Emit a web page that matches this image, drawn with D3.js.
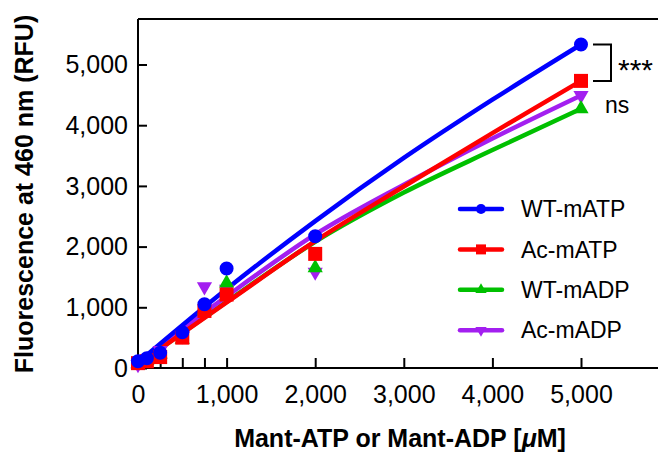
<!DOCTYPE html>
<html>
<head>
<meta charset="utf-8">
<script src="https://cdn.jsdelivr.net/npm/d3@7"></script>
<style>
  body { margin: 0; background: #fff; }
  svg { display: block; font-family: "Liberation Sans", Arial, Helvetica, sans-serif; }
</style>
</head>
<body>
<div id="chart"></div>
<script>
// Data
const concentrations = [0, 100, 250, 500, 750, 1000, 2000, 5000];
const wtATP = [110, 160, 250, 590, 1050, 1640, 2170, 5330];
const acATP = [80, 110, 180, 500, 940, 1210, 1880, 4730];
const wtADP = [70, 120, 230, 470, 950, 1400, 1650, 4270];
const acADP = [60, 150, 290, 530, 1340, 1300, 1580, 4490];

// Fitted curves
const fitX = [0, 1000, 2000, 3000, 4000, 5000];
const fitWtATP = [90, 1300, 2420, 3460, 4420, 5330];
const fitAcATP = [60, 1080, 2090, 2990, 3870, 4730];
const fitWtADP = [60, 1090, 2080, 2890, 3590, 4270];
const fitAcADP = [80, 1180, 2200, 3020, 3780, 4490];

const seriesNames = ["WT-mATP", "Ac-mATP", "WT-mADP", "Ac-mADP"];
const xTicks = [0, 250, 500, 750, 1000, 2000, 3000, 4000, 5000];
const xTickLabels = [0, 1000, 2000, 3000, 4000, 5000];
const yTicks = [0, 1000, 2000, 3000, 4000, 5000];

// Styles
const width = 658;
const height = 454;
const colors = ["#0000ff", "#ff0000", "#00c000", "#a31ff0"];
const shapes = ["circle", "square", "triangle", "down"];

const series = [
    {name: seriesNames[0], pts: wtATP, fit: fitWtATP},
    {name: seriesNames[1], pts: acATP, fit: fitAcATP},
    {name: seriesNames[2], pts: wtADP, fit: fitWtADP},
    {name: seriesNames[3], pts: acADP, fit: fitAcADP},
].map((s, i) => ({...s, color: colors[i], shape: shapes[i]}));

const svg = d3.select("#chart").append("svg")
    .attr("width", width)
    .attr("height", height);

const xScale = d3.scaleLinear().domain([0, 5900]).range([138, 138 + 5900 * 0.0886]);
const yScale = d3.scaleLinear().domain([0, 5750]).range([368, 368 - 5750 * 0.0607]);

const symbolPath = function(shape, big) {
    let type = d3.symbolCircle, size = big ? 154 : 80;
    if (shape === "square") { type = d3.symbolSquare; size = big ? 196 : 100; }
    if (shape === "triangle" || shape === "down") { type = d3.symbolTriangle; size = big ? 100 : 55; }
    return d3.symbol().type(type).size(size)();
}
const symbolTransform = function(shape, x, y) {
    return `translate(${x},${y})` + (shape === "down" ? " rotate(180)" : "");
}

// axes
const xAxis = svg.append("g")
    .attr("transform", `translate(0,${yScale(0)})`)
    .call(d3.axisBottom(xScale).tickValues(xTicks).tickSize(-10).tickPadding(0)
        .tickFormat(d => xTickLabels.includes(d) ? d3.format(",")(d) : ""));
xAxis.select(".domain").attr("stroke-width", 2).attr("d", `M${xScale(0)},0H${width + 5}`);
xAxis.selectAll(".tick line").attr("stroke-width", 2);
xAxis.selectAll(".tick text")
    .attr("y", 17)
    .attr("font-size", 25)
    .attr("fill", "#000")
    .attr("font-family", "Liberation Sans, Arial, sans-serif");

const yAxis = svg.append("g")
    .attr("transform", `translate(${xScale(0)},0)`)
    .call(d3.axisLeft(yScale).tickValues(yTicks).tickSize(-9).tickPadding(0)
        .tickFormat(d3.format(",")));
yAxis.select(".domain").attr("stroke-width", 2).attr("d", `M0,${yScale(0)}V${yScale.range()[1]}`);
yAxis.selectAll(".tick line").attr("stroke-width", 2);
yAxis.selectAll(".tick text")
    .attr("x", -10)
    .attr("dy", "0.33em")
    .attr("font-size", 25)
    .attr("fill", "#000")
    .attr("font-family", "Liberation Sans, Arial, sans-serif");

// top frame line
svg.append("line")
    .attr("x1", xScale(0)).attr("x2", width + 5)
    .attr("y1", yScale.range()[1]).attr("y2", yScale.range()[1])
    .attr("stroke", "#000").attr("stroke-width", 2);

// axis titles
svg.append("text")
    .attr("x", 400).attr("y", 447)
    .attr("text-anchor", "middle")
    .attr("font-size", 25).attr("font-weight", "bold")
    .html('Mant-ATP or Mant-ADP [<tspan font-style="italic">μ</tspan>M]');
svg.append("text")
    .attr("transform", "translate(33,194) rotate(-90)")
    .attr("text-anchor", "middle")
    .attr("font-size", 25).attr("font-weight", "bold")
    .text("Fluorescence at 460 nm (RFU)");

// fitted curves
const line = d3.line()
    .x((d, i) => xScale(fitX[i]))
    .y(d => yScale(d))
    .curve(d3.curveMonotoneX);
const drawOrder = [2, 3, 1, 0];
for (const i of drawOrder) {
    svg.append("path")
        .datum(series[i].fit)
        .attr("fill", "none")
        .attr("stroke", series[i].color)
        .attr("stroke-width", 4.5)
        .attr("stroke-linecap", "round")
        .attr("d", line);
}

// data points
for (const i of [3, 2, 1, 0]) {
    const s = series[i];
    svg.append("g").selectAll("path")
        .data(s.pts)
        .join("path")
        .attr("d", symbolPath(s.shape, true))
        .attr("transform", (d, j) => symbolTransform(s.shape, xScale(concentrations[j]), yScale(d)))
        .attr("fill", s.color);
}

// significance bracket
const yTop = yScale(wtATP[wtATP.length - 1]);
const yBot = yScale(acATP[acATP.length - 1]);
svg.append("path")
    .attr("d", `M593,${yTop}H611V${yBot}H593`)
    .attr("fill", "none").attr("stroke", "#000").attr("stroke-width", 2);
svg.append("text").attr("x", 618).attr("y", 80).attr("font-size", 30).text("***");
svg.append("text").attr("x", 605).attr("y", 113).attr("font-size", 23).text("ns");

// legend
const legend = svg.append("g");
series.forEach((s, i) => {
    const y = 209 + i * 40.4;
    legend.append("line")
        .attr("x1", 460).attr("x2", 502).attr("y1", y).attr("y2", y)
        .attr("stroke", s.color).attr("stroke-width", 4.5).attr("stroke-linecap", "round");
    legend.append("path")
        .attr("d", symbolPath(s.shape, false))
        .attr("transform", symbolTransform(s.shape, 481, y))
        .attr("fill", s.color);
    legend.append("text")
        .attr("x", 521).attr("y", y).attr("dy", "0.36em")
        .attr("font-size", 23)
        .text(s.name);
});
</script>
</body>
</html>
